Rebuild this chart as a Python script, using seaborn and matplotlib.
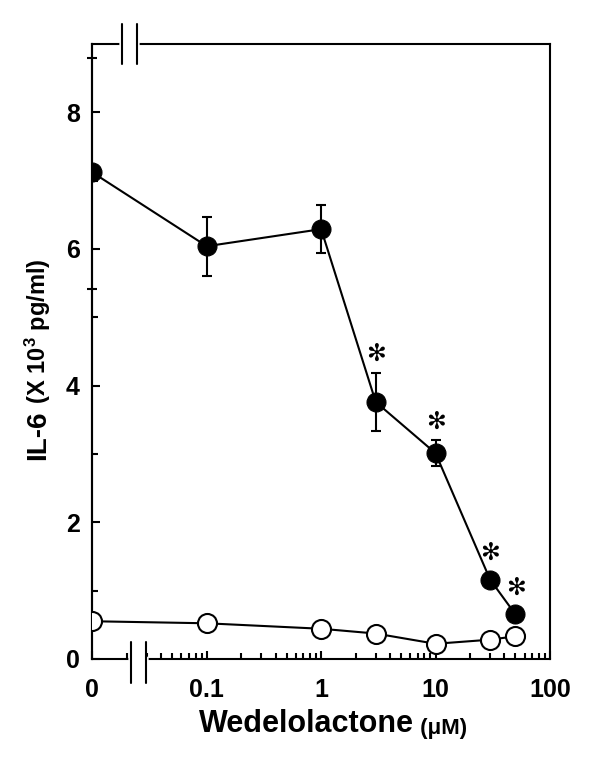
import matplotlib
matplotlib.use("Agg")
import matplotlib.pyplot as plt
import seaborn as sns
import numpy as np

# concentrations (uM); 0 is drawn at the left end of the broken log axis
conc = np.array([0, 0.1, 1, 3, 10, 30, 50])
il6_wed = np.array([7.12, 6.04, 6.29, 3.76, 3.01, 1.16, 0.65])   # filled circles
il6_err = np.array([0.0, 0.43, 0.35, 0.43, 0.19, 0.06, 0.04])
il6_ctrl = np.array([0.55, 0.52, 0.44, 0.37, 0.22, 0.28, 0.33])  # open circles
signif = np.array([False, False, False, True, True, True, True])

xticks = [0.01, 0.1, 1, 10, 100]
xticklabels = ["0", "0.1", "1", "10", "100"]
yticks = [0, 2, 4, 6, 8]

sns.set_style("ticks")
plt.rcParams["font.family"] = ["Liberation Sans", "DejaVu Sans"]
plt.rcParams["font.weight"] = "bold"
plt.rcParams["mathtext.default"] = "regular"
for k in ("text.color", "axes.labelcolor", "xtick.color", "ytick.color", "axes.edgecolor"):
    plt.rcParams[k] = "black"

x_pos = np.where(conc == 0, 0.01, conc)  # put "0" where 0.01 would be

fig = plt.figure(figsize=(6, 7.59), dpi=100)
ax = fig.add_axes([0.154, 0.132, 0.7625, 0.810])

sns.lineplot(x=x_pos, y=il6_ctrl, ax=ax, color="black", lw=1.5, marker="o",
             markersize=13.7, markerfacecolor="white", markeredgecolor="black",
             markeredgewidth=1.5, zorder=3)
sns.lineplot(x=x_pos, y=il6_wed, ax=ax, color="black", lw=1.5, marker="o",
             markersize=13.7, markerfacecolor="black", markeredgecolor="black",
             zorder=4)
ax.errorbar(x_pos, il6_wed, yerr=il6_err, fmt="none", ecolor="black",
            elinewidth=1.5, capsize=3.6, capthick=1.5, zorder=4)

# significance stars
for xv, yv, ev, s in zip(x_pos, il6_wed, il6_err, signif):
    if s:
        ax.text(xv, yv + max(ev, 0.12) + 0.27, "\u273b", ha="center", va="center",
                fontsize=17, family="DejaVu Sans", fontweight="normal")

ax.set_xscale("log")
ax.set_xlim(0.01, 100)
ax.set_ylim(0, 9)
ax.set_xticks(xticks)
ax.set_xticklabels(xticklabels)
ax.xaxis.set_minor_locator(matplotlib.ticker.LogLocator(base=10, subs=np.arange(2, 10)))
ax.xaxis.set_minor_formatter(matplotlib.ticker.NullFormatter())
ax.set_yticks(yticks)
ax.set_yticks([1, 3, 5, 7], minor=True)

for sp in ax.spines.values():
    sp.set_linewidth(1.5)
    sp.set_color("black")
ax.tick_params(axis="both", which="both", direction="in", width=1.5, color="black",
               top=False, right=False)
ax.tick_params(axis="x", which="major", length=6, pad=14, labelsize=18)
ax.tick_params(axis="x", which="minor", length=4)
ax.tick_params(axis="y", which="major", length=6, pad=9, labelsize=18)
ax.tick_params(axis="y", which="minor", length=4)

# small stray marks crossing the y axis
sec = ax.secondary_yaxis("left")
sec.set_yticks([5.42, 8.8])
sec.set_yticklabels([])
sec.tick_params(direction="inout", length=7, width=1.5, color="black")
sec.spines["left"].set_linewidth(1.5)

# axis breaks
tr = ax.get_xaxis_transform()
ax.plot([0.0217, 0.0293], [0, 0], color="white", lw=4, transform=tr, clip_on=False, zorder=5)
for xb in (0.0217, 0.0293):
    ax.plot([xb, xb], [-0.039, 0.028], color="black", lw=1.5, transform=tr,
            clip_on=False, zorder=6)
ax.plot([0.0183, 0.0243], [1, 1], color="white", lw=4, transform=tr, clip_on=False, zorder=5)
for xb in (0.0183, 0.0243):
    ax.plot([xb, xb], [0.967, 1.033], color="black", lw=1.5, transform=tr,
            clip_on=False, zorder=6)

# axis labels with mixed sizes
xl = fig.text(0.332, 0.027, "Wedelolactone", fontsize=22, fontweight="bold",
              ha="left", va="bottom")
ax.annotate(" (\u03bcM)", xy=(1, 0), xycoords=xl, fontsize=16, fontweight="bold",
            ha="left", va="bottom")
yl = fig.text(0.063, 0.394, "IL-6", fontsize=20, fontweight="bold", rotation=90,
              ha="center", va="bottom")
ax.annotate(" (X 10$^3$ pg/ml)", xy=(0.5, 1), xycoords=yl, fontsize=17,
            fontweight="bold", rotation=90, ha="center", va="bottom")

fig.savefig("out.png", dpi=100)
